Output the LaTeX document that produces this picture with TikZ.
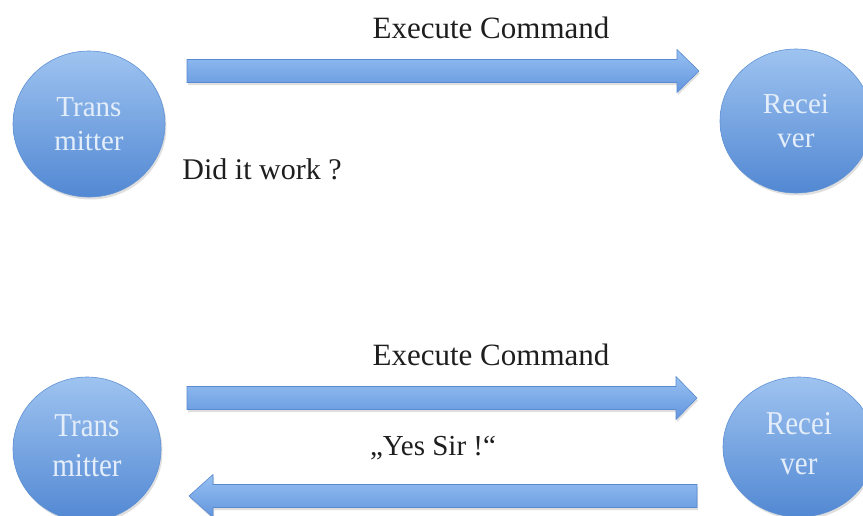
\documentclass[tikz,border=0pt]{standalone}
\usepackage{fontspec}
\setmainfont{Liberation Serif}
\usetikzlibrary{shapes.geometric,shadows,calc}

\definecolor{discTop}{RGB}{158,195,240}
\definecolor{discBot}{RGB}{82,136,211}
\definecolor{discLine}{RGB}{96,146,212}
\definecolor{arrTop}{RGB}{150,192,242}
\definecolor{arrBot}{RGB}{100,150,222}
\definecolor{arrLine}{RGB}{88,138,208}
\definecolor{discText}{RGB}{228,238,250}
\definecolor{inkText}{RGB}{30,30,30}

\tikzset{
  disc/.style={ellipse, draw=discLine, line width=0.6pt,
    top color=discTop, bottom color=discBot,
    drop shadow={opacity=0.25, shadow xshift=1.5pt, shadow yshift=-2.5pt},
    text=discText, align=center, inner sep=0pt,
    font=\fontsize{29}{34}\selectfont},
  blockarrow/.style={draw=arrLine, line width=0.6pt,
    top color=arrTop, bottom color=arrBot,
    drop shadow={opacity=0.25, shadow xshift=1pt, shadow yshift=-2.5pt}},
  caption/.style={text=inkText, anchor=base, inner sep=0pt}
}

% horizontal block arrow from #1 to #2; #3 = signed head length
\newcommand\blockarrow[3]{%
  \path[blockarrow] let \p1=(#1), \p2=(#2) in
    (\x1,\y1+11.5) -- (\x2-#3,\y1+11.5) -- (\x2-#3,\y1+21.5) -- (\x2,\y1)
    -- (\x2-#3,\y1-21.5) -- (\x2-#3,\y1-11.5) -- (\x1,\y1-11.5) -- cycle;}

\begin{document}
\begin{tikzpicture}[x=1pt,y=-1pt]
  \useasboundingbox (0,0) rectangle (863,515);
  \clip (0,0) rectangle (863,515);

  % ---- upper scene: command without acknowledgement ----
  \node[disc, minimum width=152, minimum height=146] (tx1) at (89,124) {Trans\\mitter};
  \node[disc, minimum width=152, minimum height=144] (rx1) at (796,121) {Recei\\ver};

  \coordinate (c1s) at (187,71);
  \coordinate (c1e) at (699,71);
  \blockarrow{c1s}{c1e}{22}
  \node[caption, font=\fontsize{31}{34}\selectfont] (cmd1) at (491,38) {Execute Command};
  \node[caption, font=\fontsize{30}{33}\selectfont] (ask) at (262,179) {Did it work ?};

  % ---- lower scene: command with reply ----
  \node[disc, minimum width=148, minimum height=144] (tx2) at (87,449) {\scalebox{1}[1.15]{\begin{tabular}{@{}c@{}}Trans\\[1pt]mitter\end{tabular}}};
  \node[disc, minimum width=152, minimum height=140] (rx2) at (799,447) {\scalebox{1}[1.15]{\begin{tabular}{@{}c@{}}Recei\\[1pt]ver\end{tabular}}};

  \coordinate (c2s) at (187,398);
  \coordinate (c2e) at (697,398);
  \blockarrow{c2s}{c2e}{21}
  \node[caption, font=\fontsize{31}{34}\selectfont] (cmd2) at (491,365) {Execute Command};

  \coordinate (r2s) at (697,496);
  \coordinate (r2e) at (189,496);
  \blockarrow{r2s}{r2e}{-24}
  \node[caption, font=\fontsize{29}{32}\selectfont] (ack) at (433,455) {„Yes Sir !“};
\end{tikzpicture}
\end{document}
